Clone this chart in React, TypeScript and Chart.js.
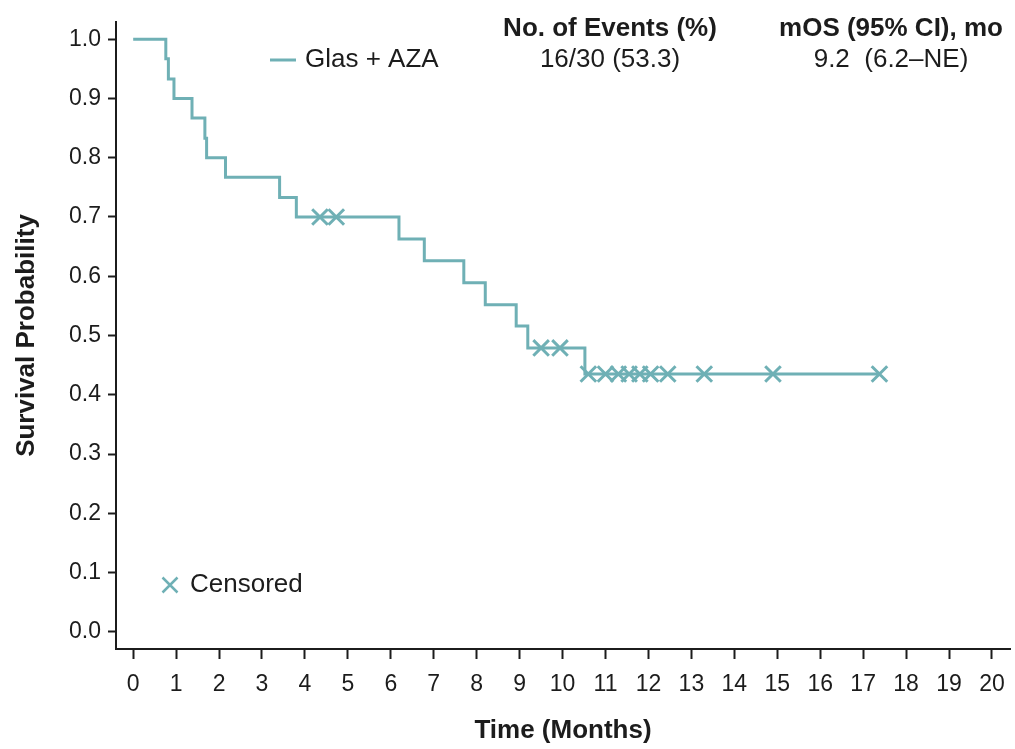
import { useEffect, useRef } from "react";
import { Chart, registerables } from "chart.js";

Chart.register(...registerables);

// Kaplan–Meier overall survival, Glas + AZA
const eventTimes = [0, 0.76, 0.82, 0.95, 1.37, 1.67, 1.71, 2.15, 3.41, 3.8, 6.19, 6.78, 7.7, 8.2, 8.92, 9.19, 10.52, 17.38];
const survival = [1.0, 0.967, 0.933, 0.9, 0.867, 0.833, 0.8, 0.767, 0.733, 0.7, 0.663, 0.626, 0.589, 0.552, 0.516, 0.479, 0.435, 0.435];

const censorTimes = [4.35, 4.73, 9.5, 9.94, 10.6, 11.0, 11.3, 11.55, 11.8, 12.05, 12.45, 13.3, 14.9, 17.38];
const censorSurvival = [0.7, 0.7, 0.479, 0.479, 0.435, 0.435, 0.435, 0.435, 0.435, 0.435, 0.435, 0.435, 0.435, 0.435];

const xTickValues = [0, 1, 2, 3, 4, 5, 6, 7, 8, 9, 10, 11, 12, 13, 14, 15, 16, 17, 18, 19, 20];
const yTickValues = [0, 0.1, 0.2, 0.3, 0.4, 0.5, 0.6, 0.7, 0.8, 0.9, 1.0];

const seriesLabel = "Glas + AZA";
const eventsHeader = "No. of Events (%)";
const eventsValue = "16/30 (53.3)";
const mosHeader = "mOS (95% CI), mo";
const mosValue = "9.2  (6.2\u2013NE)";
const censoredLabel = "Censored";

const TEAL = "#6fb0b5";
const INK = "#1c1c1c";
const FONT = "'Liberation Sans', Arial, Helvetica, sans-serif";

const annotationPlugin = {
  id: "kmAnnotations",
  afterDraw(chart: any) {
    const ctx = chart.ctx as CanvasRenderingContext2D;
    ctx.save();
    ctx.textBaseline = "middle";

    // series key
    ctx.strokeStyle = TEAL;
    ctx.lineWidth = 3;
    ctx.beginPath();
    ctx.moveTo(270, 60);
    ctx.lineTo(296, 60);
    ctx.stroke();
    ctx.fillStyle = INK;
    ctx.font = `26px ${FONT}`;
    ctx.textAlign = "left";
    ctx.fillText(seriesLabel, 305, 60);

    // summary columns
    ctx.textAlign = "center";
    ctx.font = `bold 26px ${FONT}`;
    ctx.fillText(eventsHeader, 610, 29);
    ctx.fillText(mosHeader, 891, 29);
    ctx.font = `26px ${FONT}`;
    ctx.fillText(eventsValue, 610, 60);
    ctx.fillText(mosValue, 891, 60);

    // censored key
    const cx = 170;
    const cy = 585;
    const r = 7.5;
    ctx.strokeStyle = TEAL;
    ctx.lineWidth = 2.5;
    ctx.beginPath();
    ctx.moveTo(cx - r, cy - r);
    ctx.lineTo(cx + r, cy + r);
    ctx.moveTo(cx + r, cy - r);
    ctx.lineTo(cx - r, cy + r);
    ctx.stroke();
    ctx.textAlign = "left";
    ctx.font = `26px ${FONT}`;
    ctx.fillText(censoredLabel, 190, cy);

    ctx.restore();
  },
};

export default function App() {
  const canvasRef = useRef<HTMLCanvasElement | null>(null);

  useEffect(() => {
    const canvas = canvasRef.current;
    if (!canvas) return;

    const chart = new Chart(canvas, {
      type: "scatter",
      data: {
        datasets: [
          {
            label: seriesLabel,
            data: eventTimes.map((t, i) => ({ x: t, y: survival[i] })),
            showLine: true,
            stepped: "before",
            borderColor: TEAL,
            borderWidth: 3,
            pointRadius: 0,
            pointHoverRadius: 0,
            fill: false,
          },
          {
            label: censoredLabel,
            data: censorTimes.map((t, i) => ({ x: t, y: censorSurvival[i] })),
            showLine: false,
            pointStyle: "crossRot",
            pointRadius: 11,
            pointBorderWidth: 3,
            borderColor: TEAL,
            backgroundColor: TEAL,
          },
        ],
      },
      options: {
        responsive: false,
        maintainAspectRatio: false,
        animation: false,
        events: [],
        layout: { autoPadding: false, padding: { top: 22, right: 5, left: 0, bottom: 0 } },
        plugins: {
          legend: { display: false },
          tooltip: { enabled: false },
          title: { display: false },
        },
        scales: {
          x: {
            type: "linear",
            min: -0.4,
            max: 20.42,
            afterFit: (scale: any) => {
              scale.height = 100;
            },
            afterBuildTicks: (scale: any) => {
              scale.ticks = xTickValues.map((v) => ({ value: v }));
            },
            ticks: {
              color: INK,
              font: { family: FONT, size: 23 },
              padding: 4,
              maxRotation: 0,
              autoSkip: false,
              callback: (v: any) => String(v),
            },
            grid: {
              display: true,
              drawOnChartArea: false,
              drawTicks: true,
              // the tick slot is long so the labels sit low, but only the
              // first 9px of each mark are inked
              tickLength: 18,
              tickBorderDash: [9, 60],
              tickWidth: 2,
              tickColor: INK,
            },
            border: { display: true, color: INK, width: 2 },
            title: {
              display: true,
              text: "Time (Months)",
              color: INK,
              font: { family: FONT, size: 26, weight: "bold" },
              padding: { top: 0, bottom: 3 },
            },
          },
          y: {
            type: "linear",
            min: -0.029,
            max: 1.029,
            afterFit: (scale: any) => {
              scale.width = 116;
            },
            afterBuildTicks: (scale: any) => {
              scale.ticks = yTickValues.map((v) => ({ value: v }));
            },
            ticks: {
              color: INK,
              font: { family: FONT, size: 23 },
              padding: 7,
              autoSkip: false,
              callback: (v: any) => Number(v).toFixed(1),
            },
            grid: {
              display: true,
              drawOnChartArea: false,
              drawTicks: true,
              tickLength: 8,
              tickWidth: 2,
              tickColor: INK,
            },
            border: { display: true, color: INK, width: 2 },
            title: {
              display: true,
              text: "Survival Probability",
              color: INK,
              font: { family: FONT, size: 26, weight: "bold" },
              padding: { top: 11, bottom: 0 },
            },
          },
        },
      },
      plugins: [annotationPlugin],
    } as any);

    return () => chart.destroy();
  }, []);

  return (
    <div style={{ position: "fixed", left: 0, top: 0, width: 1015, height: 749, background: "#fff" }}>
      <canvas ref={canvasRef} width={1015} height={749} style={{ display: "block" }} />
    </div>
  );
}
